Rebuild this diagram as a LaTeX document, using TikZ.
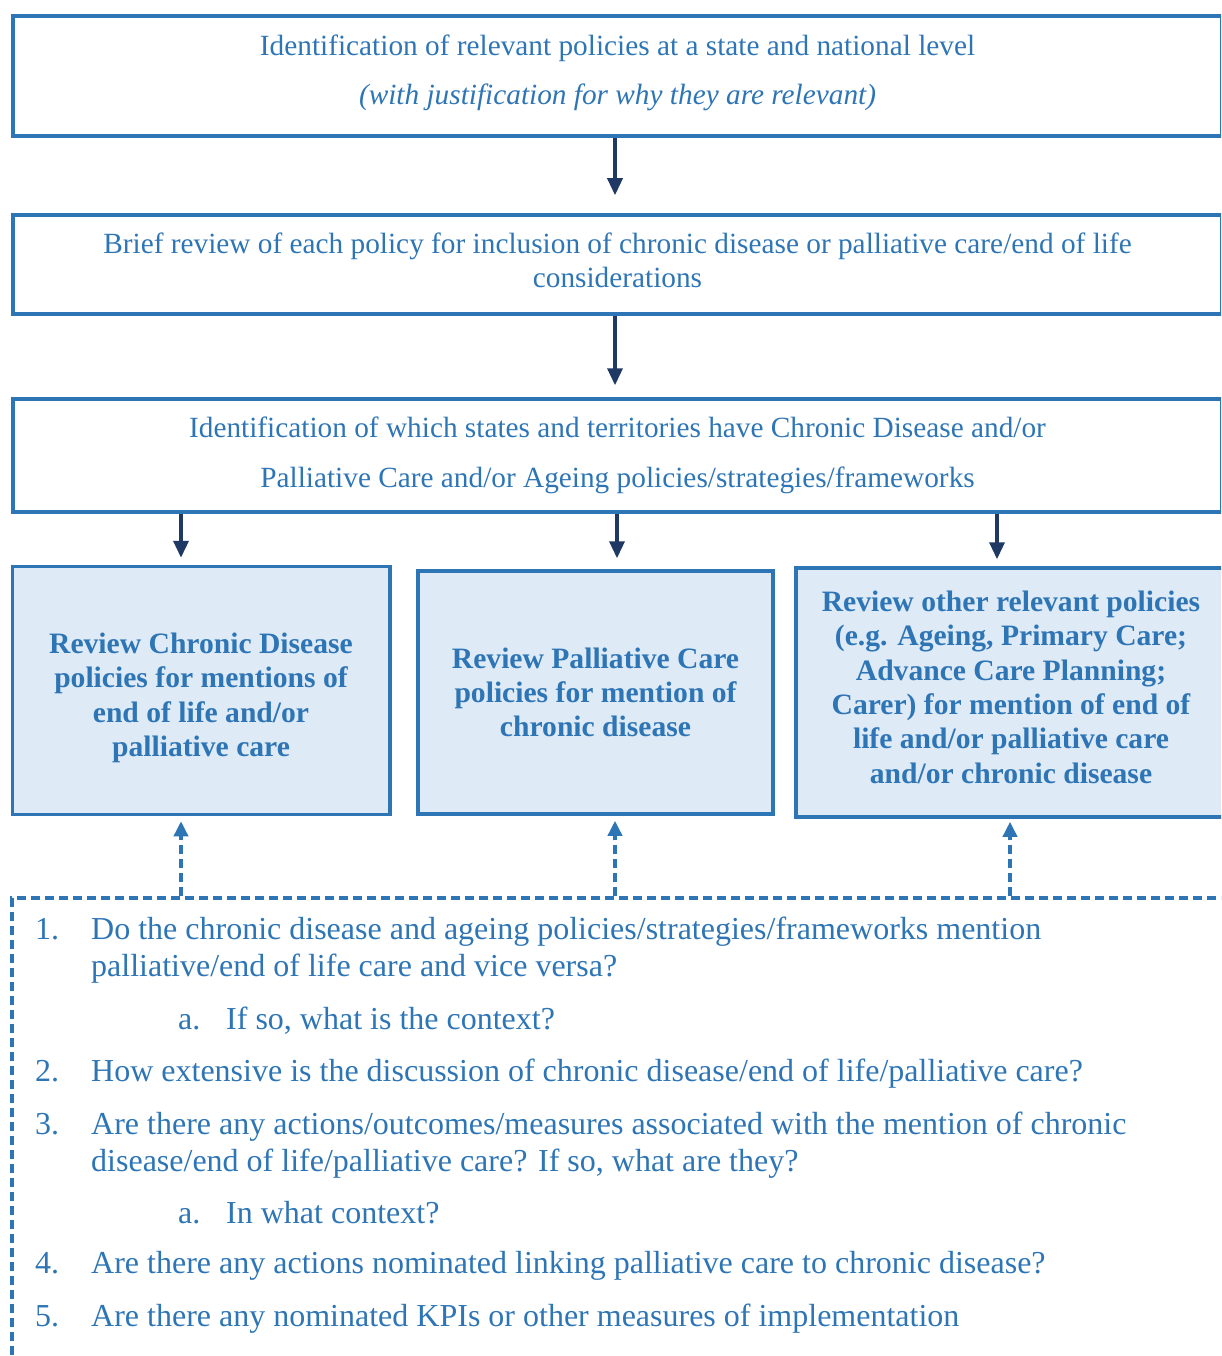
\documentclass[tikz,border=0pt]{standalone}
\usepackage{fontspec}
\setmainfont{Liberation Serif}
\usetikzlibrary{arrows.meta}
\definecolor{boxblue}{HTML}{2E75B6}
\definecolor{paleblue}{HTML}{DEEAF6}
\definecolor{navy}{HTML}{1F3864}
\tikzset{
  stage/.style={draw=boxblue, line width=3.5pt, text=boxblue, align=center, inner sep=0pt,
    font=\fontsize{29.3}{34}\selectfont},
  reviewbox/.style={stage, fill=paleblue, font=\fontsize{29.6}{34.3}\selectfont\bfseries},
  flow/.style={navy, line width=3.5pt, -{Triangle[width=15pt,length=17pt]}},
  feed/.style={boxblue, line width=3.5pt, dash pattern=on 9pt off 5pt, -{Triangle[width=14pt,length=15pt]}},
  qtext/.style={text=boxblue, anchor=base west, inner sep=0pt, font=\fontsize{32}{37}\selectfont},
}
\newcommand\lowstrut[1]{\rule[-#1]{0pt}{0pt}}
\begin{document}
\begin{tikzpicture}[x=1pt,y=-1pt]
\useasboundingbox (0,0) rectangle (1221,1356);
\clip (0,0) rectangle (1221,1356);
% main stages
\node[stage, minimum width=1209pt, minimum height=120pt] (idpol) at (617.5,76)
  {Identification of relevant policies at a state and national level\\[15pt]
   \textit{(with justification for why they are relevant)}\lowstrut{12pt}};
\node[stage, minimum width=1209pt, minimum height=99pt] (brief) at (617.5,264.5)
  {Brief review of each policy for inclusion of chronic disease or palliative care/end of life\\
   considerations\lowstrut{8pt}};
\node[stage, minimum width=1209pt, minimum height=113pt] (states) at (617.5,455.5)
  {Identification of which states and territories have Chronic Disease and/or\\[16pt]
   Palliative Care and/or Ageing policies/strategies/frameworks};
% three reviews
\node[reviewbox, minimum width=377.5pt, minimum height=248pt] (chronic) at (201,690.5)
  {\rule{0pt}{35pt}Review Chronic Disease\\policies for mentions of\\end of life and/or\\palliative care};
\node[reviewbox, minimum width=355pt, minimum height=243pt] (pallcare) at (595.5,692.5)
  {Review Palliative Care\\policies for mention of\\chronic disease};
\node[reviewbox, minimum width=430pt, minimum height=249pt] (other) at (1011,692.5)
  {Review other relevant policies\\(e.g. Ageing, Primary Care;\\Advance Care Planning;\\
   Carer) for mention of end of\\life and/or palliative care\\and/or chronic disease\lowstrut{11pt}};
% questions box
\node[draw=boxblue, line width=3.5pt, dash pattern=on 9pt off 5pt, minimum width=1220pt,
  minimum height=500pt, inner sep=0pt] (qbox) at (622,1148) {};
% arrow columns
\coordinate (c1) at (181,0);
\coordinate (c2) at (617,0);
\coordinate (c3) at (997,0);
\coordinate (d1) at (181,0);
\coordinate (d2) at (615,0);
\coordinate (d3) at (1010,0);
\coordinate (m) at (615,0);
\draw[flow, shorten >=18pt] (idpol.south -| m) -- (brief.north -| m);
\draw[flow, shorten >=12pt] (brief.south -| m) -- (states.north -| m);
\draw[flow, shorten >=7pt] (states.south -| c1) -- (chronic.north -| c1);
\draw[flow, shorten >=11pt] (states.south -| c2) -- (pallcare.north -| c2);
\draw[flow, shorten >=7pt] (states.south -| c3) -- (other.north -| c3);
\draw[feed, shorten >=5pt] (qbox.north -| d1) -- (chronic.south -| d1);
\draw[feed, shorten >=5pt] (qbox.north -| d2) -- (pallcare.south -| d2);
\draw[feed, shorten >=3pt] (qbox.north -| d3) -- (other.south -| d3);
% questions
\node[qtext] (n1) at (35,939) {1.};
\node[qtext] (q1) at (91,939) {Do the chronic disease and ageing policies/strategies/frameworks mention};
\node[qtext] (q1b) at (91,976) {palliative/end of life care and vice versa?};
\node[qtext] (n1a) at (178,1029) {a.};
\node[qtext] (q1a) at (226,1029) {If so, what is the context?};
\node[qtext] (n2) at (35,1081) {2.};
\node[qtext] (q2) at (91,1081) {How extensive is the discussion of chronic disease/end of life/palliative care?};
\node[qtext] (n3) at (35,1134) {3.};
\node[qtext] (q3) at (91,1134) {Are there any actions/outcomes/measures associated with the mention of chronic};
\node[qtext] (q3b) at (91,1171) {disease/end of life/palliative care? If so, what are they?};
\node[qtext] (n3a) at (178,1223) {a.};
\node[qtext] (q3a) at (226,1223) {In what context?};
\node[qtext] (n4) at (35,1273) {4.};
\node[qtext] (q4) at (91,1273) {Are there any actions nominated linking palliative care to chronic disease?};
\node[qtext] (n5) at (35,1326) {5.};
\node[qtext] (q5) at (91,1326) {Are there any nominated KPIs or other measures of implementation};
\end{tikzpicture}
\end{document}
